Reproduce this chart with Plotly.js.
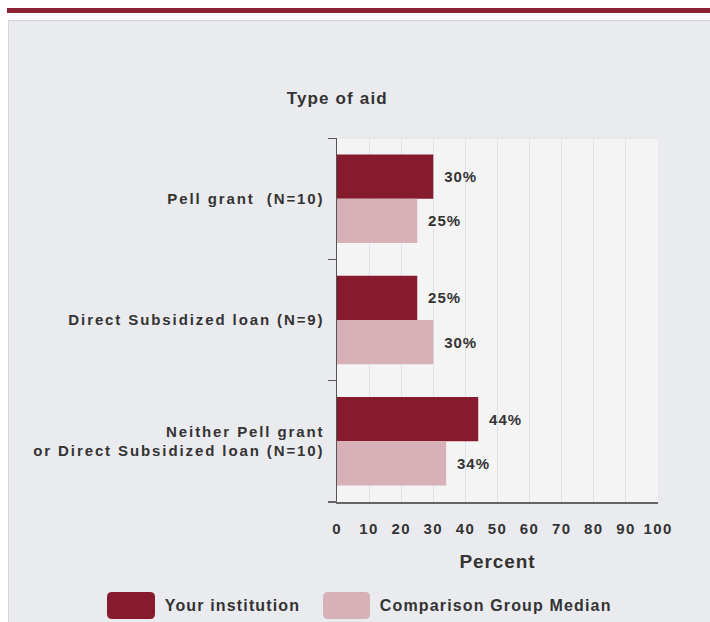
<!DOCTYPE html>
<html><head><meta charset="utf-8">
<script src="https://cdn.plot.ly/plotly-3.0.1.min.js"></script>
<style>
html,body{margin:0;padding:0;background:#fff;width:710px;height:622px;overflow:hidden;}
#topbar{position:absolute;left:7px;top:8px;width:703px;height:5px;background:#8B2332;}
#chart{position:absolute;left:8px;top:20px;width:702px;height:602px;border-left:1px solid #d4d4d8;border-top:1px solid #d4d4d8;box-sizing:border-box;}
#chart .ytick text{letter-spacing:1.9px;}
#chart .xtick text{letter-spacing:1.4px;}
#chart .bartext{letter-spacing:1px;}
#chart .annotation-text{letter-spacing:1.15px;}
#chart .g-xtitle text{letter-spacing:0.9px;}
</style></head>
<body>
<div id="topbar"></div>
<div id="chart"></div>
<script>
const categories = ["Pell grant  (N=10)", "Direct Subsidized loan (N=9)", "Neither Pell grant<br>or Direct Subsidized loan (N=10)"];
const yourInstitution = [30, 25, 44];
const comparisonMedian = [25, 30, 34];
const seriesNames = ["Your institution", "Comparison Group Median"];
const seriesColors = ["#861B2D", "#D8B0B7"];
const xTicks = [0,10,20,30,40,50,60,70,80,90,100];

const W = 701, H = 601;
const L = 328, T = 117, PW = 321, PH = 364;
function px2x(p){ return (p - L) / PW; }
function py2y(p){ return (T + PH - p) / PH; }
function roundRect(x0,y0,x1,y1,r){
  const X=v=>px2x(v), Y=v=>py2y(v);
  return `M ${X(x0+r)} ${Y(y0)} L ${X(x1-r)} ${Y(y0)} Q ${X(x1)} ${Y(y0)} ${X(x1)} ${Y(y0+r)} L ${X(x1)} ${Y(y1-r)} Q ${X(x1)} ${Y(y1)} ${X(x1-r)} ${Y(y1)} L ${X(x0+r)} ${Y(y1)} Q ${X(x0)} ${Y(y1)} ${X(x0)} ${Y(y1-r)} L ${X(x0)} ${Y(y0+r)} Q ${X(x0)} ${Y(y0)} ${X(x0+r)} ${Y(y0)} Z`;
}

const FAM = "Liberation Sans, Arial, sans-serif";
const textFont = {family:FAM, size:15, color:"#333", weight:700};
const nb = "\u00a0\u00a0";
const traces = [
  {type:"bar", orientation:"h", name:seriesNames[0], y:categories, x:yourInstitution,
   marker:{color:seriesColors[0]}, text:yourInstitution.map(v=>nb+v+"%"), textposition:"outside",
   textfont:textFont, cliponaxis:false, hoverinfo:"none"},
  {type:"bar", orientation:"h", name:seriesNames[1], y:categories, x:comparisonMedian,
   marker:{color:seriesColors[1]}, text:comparisonMedian.map(v=>nb+v+"%"), textposition:"outside",
   textfont:textFont, cliponaxis:false, hoverinfo:"none"}
];

const legY0 = 571, legY1 = 598;
const layout = {
  width:W, height:H,
  margin:{l:L, r:W-L-PW, t:T, b:H-T-PH},
  paper_bgcolor:"#EAEBEF", plot_bgcolor:"#F4F4F4",
  barmode:"group", bargap:0.27, bargroupgap:0,
  showlegend:false,
  font:{family:FAM, color:"#333"},
  xaxis:{range:[0,100], tickvals:xTicks, ticktext:xTicks.map(String), showgrid:true, gridcolor:"#DDE3EC",
    zeroline:false, showline:true, linecolor:"#666", linewidth:2, ticks:"", ticklabelstandoff:12, fixedrange:true,
    tickfont:{family:FAM, size:15, color:"#333", weight:700},
    title:{text:"Percent", font:{family:FAM, size:19, color:"#333", weight:700}, standoff:19}},
  yaxis:{autorange:"reversed", type:"category", showline:true, linecolor:"#555", linewidth:1.5,
    ticks:"outside", tickson:"boundaries", ticklen:8, tickcolor:"#555", ticklabelstandoff:8, fixedrange:true,
    tickfont:{family:FAM, size:15, color:"#333", weight:700}},
  shapes:[
    {type:"line", xref:"paper", yref:"paper", x0:px2x(319), x1:0, y0:0, y1:0, line:{color:"#666", width:2}},
    {type:"line", xref:"paper", yref:"paper", x0:0, x1:1, y0:1, y1:1, line:{color:"#E2E2E2", width:1}},
    {type:"path", xref:"paper", yref:"paper", path:roundRect(98,legY0,146,legY1,5), fillcolor:seriesColors[0], line:{width:0}},
    {type:"path", xref:"paper", yref:"paper", path:roundRect(314,legY0,361,legY1,5), fillcolor:seriesColors[1], line:{width:0}}
  ],
  annotations:[
    {text:"Type of aid", xref:"paper", yref:"paper", x:0, y:py2y(78), xanchor:"center", yanchor:"middle", showarrow:false,
     font:{family:FAM, size:17, color:"#333", weight:700}},
    {text:seriesNames[0], xref:"paper", yref:"paper", x:px2x(163), y:py2y(584), xanchor:"left", yanchor:"middle", showarrow:false,
     font:{family:FAM, size:16, color:"#333", weight:700}},
    {text:seriesNames[1], xref:"paper", yref:"paper", x:px2x(382), y:py2y(584), xanchor:"left", yanchor:"middle", showarrow:false,
     font:{family:FAM, size:16, color:"#333", weight:700}}
  ]
};
Plotly.newPlot("chart", traces, layout, {displayModeBar:false, staticPlot:true});
</script>
</body></html>
